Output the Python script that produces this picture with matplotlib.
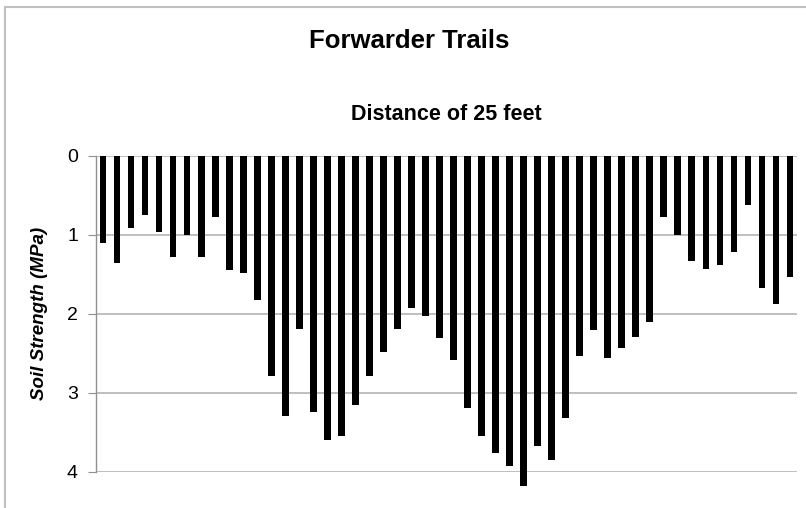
import matplotlib
matplotlib.use("Agg")
import matplotlib.pyplot as plt
from matplotlib.patches import Rectangle
import numpy as np

# Soil strength (MPa), left to right
strength = [1.10, 1.36, 0.92, 0.75, 0.97, 1.28, 1.00, 1.28, 0.77, 1.45,
            1.48, 1.83, 2.79, 3.30, 2.19, 3.25, 3.60, 3.55, 3.15, 2.79,
            2.49, 2.19, 1.93, 2.03, 2.31, 2.59, 3.19, 3.55, 3.76, 3.93,
            4.18, 3.68, 3.85, 3.32, 2.54, 2.21, 2.56, 2.44, 2.29, 2.11,
            0.77, 1.00, 1.33, 1.43, 1.38, 1.22, 0.62, 1.68, 1.88, 1.53]
yticks = [0, 1, 2, 3, 4]

plt.rcParams['font.family'] = ['Liberation Sans', 'DejaVu Sans']

fig = plt.figure(figsize=(8.06, 5.08), dpi=100)
ax = fig.add_axes([96/806, 0.0715, (797-96)/806, 0.622])

x = np.arange(len(strength))
ax.bar(x, strength, width=0.48, color='black', clip_on=False, zorder=3)

ax.set_xlim(-0.5, len(strength) - 0.5)
ax.set_ylim(4, 0)
ax.set_yticks(yticks)
ax.set_yticklabels([str(t) for t in yticks], fontsize=14)
ax.set_xticks([])
ax.grid(axis='y', color='#b4b4b4', linewidth=1.2, zorder=0)
ax.set_axisbelow(True)

for s in ['top', 'right', 'bottom']:
    ax.spines[s].set_visible(False)
ax.spines['left'].set_color('#909090')
ax.spines['left'].set_linewidth(1.0)
ax.tick_params(axis='y', direction='out', length=6, color='#909090', pad=7)

ax.set_ylabel('Soil Strength (MPa)', fontsize=13.5, fontweight='bold',
              fontstyle='italic', labelpad=14)
ax.set_title('Distance of 25 feet', fontsize=15.5, fontweight='bold', pad=26)
fig.text(409/806, 1 - 41/508, 'Forwarder Trails', fontsize=18.5,
         fontweight='bold', ha='center', va='center')

# light border around the chart area
fig.patches.append(Rectangle((5/806, -0.1), 1.2, (508-7)/508 + 0.1,
                             transform=fig.transFigure, fill=False,
                             edgecolor='#c0c0c0', linewidth=1.5))

fig.savefig('out.png', dpi=100)
